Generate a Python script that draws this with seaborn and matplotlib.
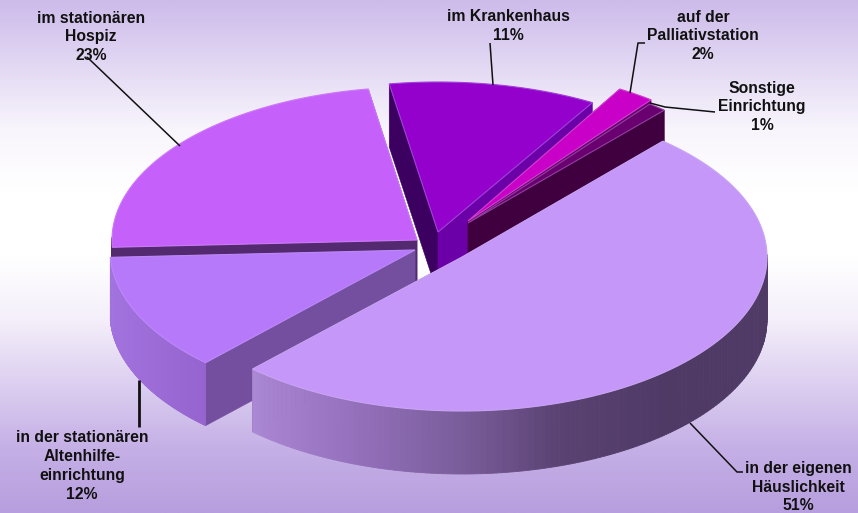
import numpy as np
import matplotlib
matplotlib.use('Agg')
import matplotlib.pyplot as plt
import seaborn as sns

# Daten
names = ['in der eigenen\nHäuslichkeit', 'in der stationären\nAltenhilfe-\neinrichtung',
         'im stationären\nHospiz', 'im Krankenhaus', 'auf der\nPalliativstation',
         'Sonstige\nEinrichtung']
values = [50.6, 12.2, 23.2, 11.0, 2.0, 1.0]

# Layout der Stuecke (Pixel im Bild)
start_angle = 48.8
tip_x = [462, 415, 417, 438, 468, 468]
tip_y = [257, 250, 240, 232, 221, 223]
radius_x = [305, 305, 305, 305, 300, 298]
radius_y = [154, 155, 153, 150, 153, 150]
depth = 63
draw_order = [2, 3, 4, 5, 1, 0]

top_colors = ['#C497F8', '#B679FA', '#C660FA', '#9400CC', '#C800C8', '#6A0070']
start_wall_colors = ['#4F3A66', '#744FA0', '#532A70', '#3C0060', '#7A0080', '#6A0070']
end_wall_colors = ['#4F3A66', '#744FA0', '#532A70', '#6C00A8', '#6A0070', '#40003F']
edge_colors = ['#C9A4F5', '#BC88F8', '#CC78F8', '#A040D8', '#D040D0', '#9040A0']
outer_stops = [['#AB88D4', '#9570BC', '#7A5E9C', '#5A4272', '#4F3A66', '#4F3A66'],
               ['#A272DE', '#9564CE'], ['#532A70', '#532A70'], ['#3C0060', '#3C0060'],
               ['#7A0080', '#7A0080'], ['#40003F', '#40003F']]

# Beschriftungen: Position (Mitte) und Fuehrungslinien
label_x = [798, 82, 91, 508, 703, 762]
label_y = [487, 466, 37, 26, 36, 107]
leader_x = [[690, 737, 743], [139, 139], [87, 180], [490, 493], [645, 638, 630], [715, 665, 650]]
leader_y = [[423, 472, 472], [380, 427], [57, 146], [43, 85], [43, 43, 93], [112, 107, 103]]
leader_w = [1.1, 2.0, 1.1, 1.1, 1.1, 1.1]

sns.set_theme(style='white')
plt.rcParams['font.family'] = ['Liberation Sans', 'DejaVu Sans']

fig, ax = plt.subplots(figsize=(8.58, 5.13), dpi=100)
fig.subplots_adjust(left=0, right=1, top=1, bottom=0)
ax.set_xlim(0, 858)
ax.set_ylim(513, 0)
ax.axis('off')

# Hintergrund als Verlauf
bg = sns.blend_palette(['#CDBBEA', '#E2D8F3', '#F8F5FC', '#FFFFFF', '#FFFFFF', '#F4EFFA',
                        '#DCCFF0', '#C5B0E6', '#B79EDE'], 256)
ax.imshow(np.array(bg)[:, None, :], extent=(0, 858, 513, 0), aspect='auto', zorder=0)

# Winkelgrenzen aus den Werten (im Uhrzeigersinn)
sweeps = np.array(values) / sum(values) * 360
ends = start_angle - np.cumsum(sweeps)
starts = ends + sweeps

z = 1
for i in draw_order:
    ang = np.radians(np.linspace(starts[i], ends[i], 180))
    ax_pts = tip_x[i] + radius_x[i] * np.cos(ang)
    ay_pts = tip_y[i] - radius_y[i] * np.sin(ang)

    # Schnittflaechen
    for k, col in [(0, start_wall_colors[i]), (-1, end_wall_colors[i])]:
        ax.fill([tip_x[i], ax_pts[k], ax_pts[k], tip_x[i]],
                [tip_y[i], ay_pts[k], ay_pts[k] + depth, tip_y[i] + depth],
                color=col, lw=0.4, zorder=z)
    z += 1

    # Aussenwand, nur die vordere Seite
    pal = sns.blend_palette(outer_stops[i], 256)
    xmin, xmax = ax_pts.min(), ax_pts.max()
    for j in range(len(ang) - 1):
        if np.sin(ang[j]) > 0.01 and np.sin(ang[j + 1]) > 0.01:
            continue
        t = (ax_pts[j] - xmin) / max(xmax - xmin, 1)
        ax.fill([ax_pts[j], ax_pts[j + 1], ax_pts[j + 1], ax_pts[j]],
                [ay_pts[j], ay_pts[j + 1], ay_pts[j + 1] + depth, ay_pts[j] + depth],
                color=pal[int(t * 255)], lw=0.6, zorder=z)
    z += 1

    # Oberseite
    ax.fill(np.r_[tip_x[i], ax_pts], np.r_[tip_y[i], ay_pts], facecolor=top_colors[i],
            edgecolor=edge_colors[i], lw=0.8, zorder=z)
    z += 1

# Fuehrungslinien und Text
for i in range(len(names)):
    ax.plot(leader_x[i], leader_y[i], color='#111111', lw=leader_w[i], zorder=z,
            solid_capstyle='butt')
    ax.text(label_x[i], label_y[i], f'{names[i]}\n{round(values[i])}%', ha='center', va='center',
            fontsize=11.3, fontweight='bold', color='#111111', linespacing=1.32, zorder=z + 1)

plt.savefig('out.png', dpi=100)
plt.close()
